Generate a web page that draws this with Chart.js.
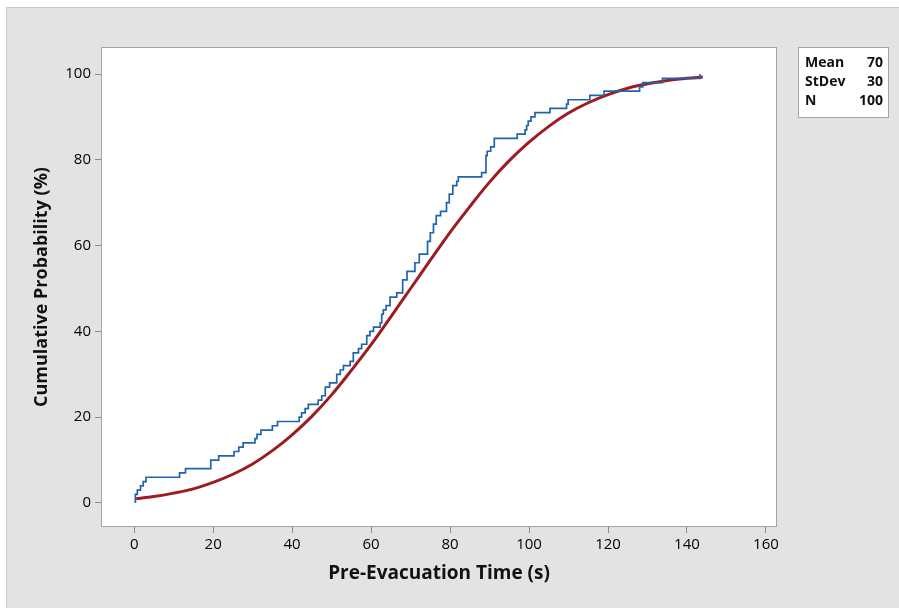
<!DOCTYPE html>
<html>
<head>
<meta charset="utf-8">
<script src="https://cdn.jsdelivr.net/npm/chart.js@4/dist/chart.umd.min.js"></script>
<style>
  html, body { margin: 0; padding: 0; background: #fff; }
  canvas { display: block; }
</style>
</head>
<body>
<canvas id="cdf" width="899" height="608"></canvas>
<script>
'use strict';

// empirical CDF steps (time in s, cumulative %)
const stepTimes = [0.3, 0.3, 0.8, 1.6, 2.3, 3.0, 11.5, 13.0, 19.4, 21.4, 25.3, 26.5, 27.6, 30.6, 31.1, 32.1, 35.0, 36.3,
  41.8, 42.4, 43.3, 44.1, 46.6, 47.5, 48.4, 49.5, 51.3, 52.2, 53.0, 54.7, 55.5, 56.8, 57.6, 58.9, 59.7, 60.6,
  62.3, 62.7, 63.1, 63.8, 64.8, 66.5, 68.0, 69.1, 71.1, 72.2, 74.3, 75.0, 75.8, 76.5, 77.6, 79.1, 79.8, 80.7,
  81.7, 82.1, 88.0, 89.1, 89.4, 90.3, 91.2, 97.0, 99.0, 99.4, 99.8, 100.5, 101.5, 105.3, 109.5, 109.9, 115.4,
  119.0, 128.0, 128.8, 133.8, 143.3];
const stepPercents = [0, 2, 3, 4, 5, 6, 7, 8, 10, 11, 12, 13, 14, 15, 16, 17, 18, 19,
  20, 21, 22, 23, 24, 25, 27, 28, 30, 31, 32, 33, 35, 36, 37, 39, 40, 41,
  42, 44, 45, 46, 48, 49, 52, 54, 56, 58, 61, 63, 65, 67, 68, 70, 72, 74,
  75, 76, 77, 81, 82, 83, 85, 86, 87, 88, 89, 90, 91, 92, 93, 94, 95,
  96, 97, 98, 99, 100];

// fitted normal curve
const fitTimes = [0.5, 5, 10, 15, 20, 25, 30, 35, 40, 45, 50, 55, 60, 65, 70, 75, 80, 85, 90, 95, 100, 105, 110, 115, 120, 125, 130, 135, 140, 144];
const fitPercents = [1.0, 1.5, 2.3, 3.3, 4.8, 6.7, 9.1, 12.2, 15.9, 20.2, 25.2, 30.9, 36.9, 43.4, 50.0, 56.6, 63.1, 69.1, 74.8, 79.8, 84.1, 87.8, 90.9, 93.3, 95.2, 96.7, 97.7, 98.5, 99.0, 99.3];

const xTicks = [0, 20, 40, 60, 80, 100, 120, 140, 160];
const yTicks = [0, 20, 40, 60, 80, 100];
const summaryLabels = ['Mean', 'StDev', 'N'];
const summaryValues = ['70', '30', '100'];

const FONT = "'Open Sans', 'Noto Sans', sans-serif";

const framePlugin = {
  id: 'frame',
  beforeDraw(chart) {
    const { ctx, chartArea: a, width, height } = chart;
    ctx.save();
    ctx.fillStyle = '#ffffff';
    ctx.fillRect(0, 0, width, height);
    ctx.fillStyle = '#e3e3e3';
    ctx.fillRect(6, 7, width - 6, height - 7);
    ctx.strokeStyle = '#c9c9c9';
    ctx.lineWidth = 1;
    ctx.strokeRect(6.5, 7.5, width, height);
    ctx.fillStyle = '#ffffff';
    ctx.fillRect(a.left, a.top, a.right - a.left, a.bottom - a.top);
    ctx.restore();
  },
  afterDraw(chart) {
    const { ctx, chartArea: a } = chart;
    ctx.save();
    ctx.strokeStyle = '#a5a5a5';
    ctx.lineWidth = 1;
    ctx.strokeRect(a.left + 0.5, a.top + 0.5, a.right - a.left - 1, a.bottom - a.top - 1);
    // summary box
    ctx.fillStyle = '#ffffff';
    ctx.fillRect(798, 47, 90, 70);
    ctx.strokeRect(798.5, 47.5, 90, 70);
    ctx.fillStyle = '#111';
    ctx.font = `bold 14px ${FONT}`;
    ctx.textBaseline = 'middle';
    summaryLabels.forEach((label, i) => {
      const y = 63 + i * 19;
      ctx.textAlign = 'left';
      ctx.fillText(label, 805, y);
      ctx.textAlign = 'right';
      ctx.fillText(summaryValues[i], 883, y);
    });
    ctx.restore();
  },
};

new Chart(document.getElementById('cdf'), {
  type: 'line',
  data: {
    datasets: [
      {
        label: 'Empirical',
        data: stepTimes.map((t, i) => ({ x: t, y: stepPercents[i] })),
        borderColor: '#2163ae',
        borderWidth: 1.7,
        stepped: 'before',
        pointRadius: 0,
        fill: false,
      },
      {
        label: 'Normal fit',
        data: fitTimes.map((t, i) => ({ x: t, y: fitPercents[i] })),
        borderColor: '#9e1c20',
        borderWidth: 3,
        cubicInterpolationMode: 'monotone',
        pointRadius: 0,
        fill: false,
      },
    ],
  },
  options: {
    responsive: false,
    animation: false,
    events: [],
    layout: { padding: { left: 0, top: 47, right: 122, bottom: 0 } },
    plugins: { legend: { display: false }, tooltip: { enabled: false } },
    scales: {
      x: {
        type: 'linear',
        min: -8.4,
        max: 162.8,
        afterBuildTicks: scale => { scale.ticks = xTicks.map(value => ({ value })); },
        afterFit: scale => { scale.height = 81; },
        grid: { display: true, drawOnChartArea: false, tickLength: 6, color: '#8a8a8a' },
        border: { display: false },
        ticks: { color: '#000', font: { size: 15, family: FONT }, padding: 3, maxRotation: 0 },
        title: {
          display: true,
          text: 'Pre-Evacuation Time (s)',
          color: '#111',
          font: { size: 19, weight: 'bold', family: FONT },
          padding: { top: 0, bottom: 23 },
        },
      },
      y: {
        type: 'linear',
        min: -5.6,
        max: 106.3,
        afterBuildTicks: scale => { scale.ticks = yTicks.map(value => ({ value })); },
        afterFit: scale => { scale.width = 101; },
        grid: { display: true, drawOnChartArea: false, tickLength: 6, color: '#8a8a8a' },
        border: { display: false },
        ticks: { color: '#000', font: { size: 15, family: FONT }, padding: 4 },
        title: {
          display: true,
          text: 'Cumulative Probability (%)',
          color: '#111',
          font: { size: 18, weight: 'bold', family: FONT },
          padding: { top: 31, bottom: 0 },
        },
      },
    },
  },
  plugins: [framePlugin],
});
</script>
</body>
</html>
